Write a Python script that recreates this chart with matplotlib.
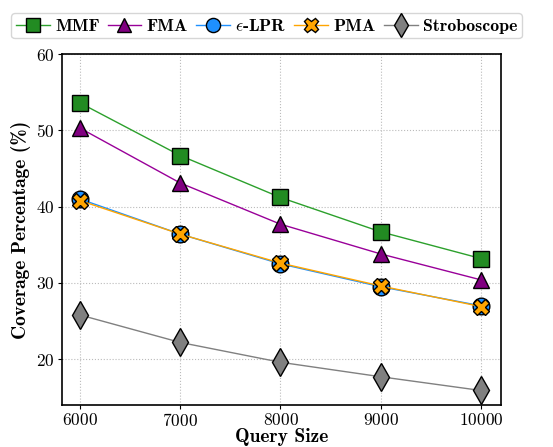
import numpy as np
from matplotlib import pyplot as plt

plt.rcParams['font.family'] = 'serif'
plt.rcParams['font.serif'] = ['cmr10']
plt.rcParams['mathtext.fontset'] = 'cm'
plt.rcParams['axes.formatter.use_mathtext'] = True

query_size = [6000, 7000, 8000, 9000, 10000]
mmf = [53.6, 46.7, 41.2, 36.7, 33.2]
fma = [50.3, 43.1, 37.7, 33.8, 30.4]
lpr = [41.0, 36.4, 32.5, 29.5, 27.0]
pma = [40.8, 36.4, 32.6, 29.6, 26.9]
strobo = [25.8, 22.2, 19.6, 17.7, 15.9]

fig = plt.figure(figsize=(5.53, 4.47), dpi=100)
ax = fig.add_axes([0.112, 0.094, 0.794, 0.785])

ms = 12
ax.plot(query_size, mmf, color='#2ca02c', marker='s', markerfacecolor='#228B22',
        markeredgecolor='black', markersize=ms, linewidth=1, label='MMF')
ax.plot(query_size, fma, color='#990099', marker='^', markerfacecolor='#800080',
        markeredgecolor='black', markersize=ms, linewidth=1, label='FMA')
ax.plot(query_size, lpr, color='#1E90FF', marker='o', markerfacecolor='#1E90FF',
        markeredgecolor='black', markersize=ms, linewidth=1, label=r'$\epsilon$-LPR')
ax.plot(query_size, pma, color='#FFA500', marker='X', markerfacecolor='#FFA500',
        markeredgecolor='black', markersize=ms, linewidth=1, label='PMA')
ax.plot(query_size, strobo, color='#808080', marker='d', markerfacecolor='#808080',
        markeredgecolor='black', markersize=ms + 2, linewidth=1, label='Stroboscope')

ax.set_xlim(5820, 10200)
ax.set_ylim(14, 60)
ax.set_xticks(query_size)
ax.set_yticks([20, 30, 40, 50, 60])
ax.tick_params(labelsize=12.5, pad=2, length=3)
ax.grid(True, linestyle=':', color='#bbbbbb', linewidth=0.8)
for s in ax.spines.values():
    s.set_linewidth(1.2)

ax.set_xlabel('Query Size', fontfamily='cmb10', fontsize=14, labelpad=-1)
ax.set_ylabel('Coverage Percentage (%)', fontfamily='cmb10', fontsize=14, labelpad=4)

leg = fig.legend(loc='upper center', bbox_to_anchor=(0.482, 0.99), ncol=5,
                 prop={'family': 'cmb10', 'size': 12.8}, handletextpad=0.3,
                 columnspacing=0.45, handlelength=1.9, borderpad=0.25,
                 markerscale=0.85)
leg.get_frame().set_edgecolor('#cccccc')

plt.savefig('out.png', dpi=100)
